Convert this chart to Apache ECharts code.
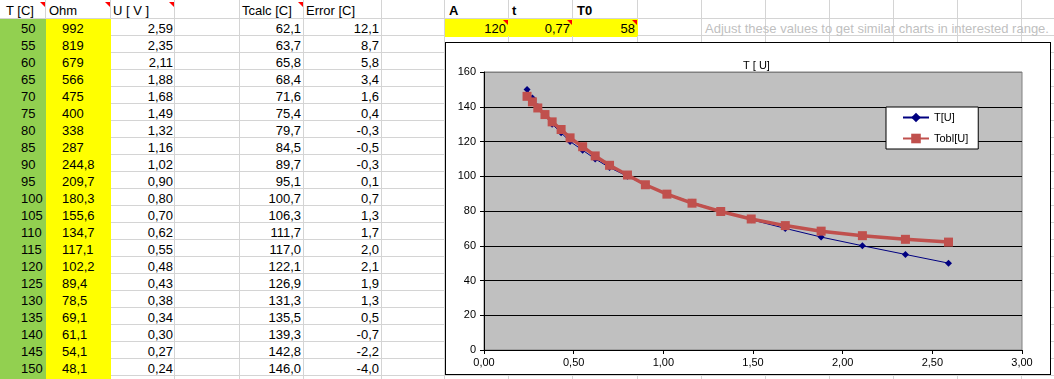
<!DOCTYPE html>
<html>
<head>
<meta charset="utf-8">
<script src="https://cdn.jsdelivr.net/npm/echarts@6/dist/echarts.min.js"></script>
<style>
  html, body { margin:0; padding:0; background:#fff; }
  body { width:1054px; height:379px; position:relative; overflow:hidden; font-family: Arial, "Liberation Sans", sans-serif; font-size:13px; color:#000; }
  .cell { position:absolute; box-sizing:border-box; border-right:1px solid #d4d4d4; border-bottom:1px solid #d4d4d4; }
  .txt { position:absolute; white-space:nowrap; line-height:17px; height:17px; }
  .tri { position:absolute; width:0; height:0; border-top:5px solid #ff0000; border-left:5px solid transparent; }
  #box { position:absolute; left:445px; top:42px; width:606px; height:333px; box-sizing:border-box; border:1px solid #000; background:#fff; }
  #chart { position:absolute; left:0; top:0; width:1054px; height:379px; }
</style>
</head>
<body>
<div id="sheet"></div>
<div id="box"></div>
<div id="chart"></div>
<script>
// ---- data ----
const headers = ["T [C]", "Ohm", "U [ V ]", "Tcalc [C]", "Error [C]"];
const T = [50,55,60,65,70,75,80,85,90,95,100,105,110,115,120,125,130,135,140,145,150];
const Ohm = [992,819,679,566,475,400,338,287,244.8,209.7,180.3,155.6,134.7,117.1,102.2,89.4,78.5,69.1,61.1,54.1,48.1];
const U = [2.59,2.35,2.11,1.88,1.68,1.49,1.32,1.16,1.02,0.90,0.80,0.70,0.62,0.55,0.48,0.43,0.38,0.34,0.30,0.27,0.24];
const Tcalc = [62.1,63.7,65.8,68.4,71.6,75.4,79.7,84.5,89.7,95.1,100.7,106.3,111.7,117.0,122.1,126.9,131.3,135.5,139.3,142.8,146.0];
const Err = [12.1,8.7,5.8,3.4,1.6,0.4,-0.3,-0.5,-0.3,0.1,0.7,1.3,1.7,2.0,2.1,1.9,1.3,0.5,-0.7,-2.2,-4.0];
const paramNames = ["A", "t", "T0"];
const paramValues = [120, 0.77, 58];
const note = "Adjust these values to get similar charts in interested range.";
const chartTitle = "T [ U]";
const seriesNames = ["T[U]", "Tobl[U]"];
const xTicks = {min:0, max:3, step:0.5};
const yTicks = {min:0, max:160, step:20};

// ---- spreadsheet ----
const sheet = document.getElementById('sheet');
const colEdges = [-18,46,111,175,240,304,382,445,509,573,638,702,766,830,894,958,1022,1086];
function rowTop(r){ return r===0 ? -1 : 19 + 17*(r-1); }
function rowH(r){ return r===0 ? 20 : 17; }
function fillFor(c, r){
  if (r>=1 && c===0) return '#92D050';
  if (r>=1 && c===1) return '#FFFF00';
  if (r===1 && c>=7 && c<=9) return '#FFFF00';
  return null;
}
for (let r=0; r<23; r++){
  for (let c=0; c<colEdges.length-1; c++){
    const d = document.createElement('div');
    d.className = 'cell';
    d.style.left = colEdges[c]+'px';
    d.style.top = rowTop(r)+'px';
    d.style.width = (colEdges[c+1]-colEdges[c])+'px';
    d.style.height = rowH(r)+'px';
    const f = fillFor(c, r);
    if (f){ d.style.background = f; d.style.border='none';
      d.style.width = (colEdges[c+1]-colEdges[c]+ (c===1||c===9?0:1))+'px';
      d.style.height = (rowH(r)+ (r===21?0:1))+'px'; }
    sheet.appendChild(d);
  }
}
function txt(s, x, y, align, opts){
  const d = document.createElement('div');
  d.className='txt';
  d.textContent = s;
  d.style.top = (y+1)+'px';
  if (align==='right'){ d.style.right = (1054-x)+'px'; } else { d.style.left = x+'px'; }
  if (opts && opts.bold) d.style.fontWeight='bold';
  if (opts && opts.color) d.style.color=opts.color;
  sheet.appendChild(d);
}
function tri(rightEdge, top){
  const d = document.createElement('div');
  d.className='tri';
  d.style.left = (rightEdge-6)+'px';
  d.style.top = top+'px';
  sheet.appendChild(d);
}
const fmt = (v, n) => v.toFixed(n).replace('.', ',');
const fmtOhm = v => Number.isInteger(v) ? String(v) : fmt(v,1);
// headers
txt(headers[0], 6, 1, 'left'); tri(46, 2);
txt(headers[1], 49, 1, 'left'); tri(111, 2);
txt(headers[2], 113, 1, 'left'); tri(175, 2);
txt(headers[3], 242, 1, 'left'); tri(304, 2);
txt(headers[4], 306, 1, 'left');
for (let i=0;i<T.length;i++){
  const y = rowTop(i+1);
  txt(String(T[i]), 21, y, 'left');
  txt(fmtOhm(Ohm[i]), 62, y, 'left');
  txt(fmt(U[i],2), 173, y, 'right');
  txt(fmt(Tcalc[i],1), 301, y, 'right');
  txt(fmt(Err[i],1), 379, y, 'right');
}
// parameters
const pLeft = [449, 512, 577], pRight=[506, 570, 635], pEdge=[509,573,638];
for (let k=0;k<3;k++){
  txt(paramNames[k], pLeft[k], 1, 'left', {bold:true});
  const v = paramValues[k];
  txt(Number.isInteger(v)? String(v) : fmt(v,2), pRight[k], rowTop(1), 'right');
  tri(pEdge[k], rowTop(1)+1);
}
txt(note, 705, rowTop(1), 'left', {color:'#bfbfbf'});

// ---- chart ----
const chart = echarts.init(document.getElementById('chart'), null, {renderer:'canvas'});
const font = 'Arial, "Liberation Sans", sans-serif';
const splitColors = [];
for (let v=yTicks.min; v<=yTicks.max; v+=yTicks.step) splitColors.push(v===yTicks.max ? '#808080' : '#000000');
chart.setOption({
  animation:false,
  backgroundColor:'transparent',
  textStyle:{fontFamily:font},
  title:{ text: chartTitle, left: 738, top: 55, textStyle:{fontSize:11, fontWeight:'normal', color:'#000', fontFamily:font} },
  grid:{ left:484, top:72, width:538, height:278, show:true, backgroundColor:'#C0C0C0', borderColor:'#808080', borderWidth:1, containLabel:false },
  legend:{
    orient:'vertical', left:886, top:107, itemWidth:26, itemHeight:12, itemGap:10,
    padding:[5,10,5,16], backgroundColor:'#fff', borderColor:'#000', borderWidth:1, borderRadius:0,
    textStyle:{fontSize:11, color:'#000', fontFamily:font}, data: seriesNames
  },
  xAxis:{
    type:'value', min:xTicks.min, max:xTicks.max, interval:xTicks.step,
    axisLine:{show:true, onZero:false, lineStyle:{color:'#000', width:1}},
    axisTick:{show:true, length:4, inside:false, lineStyle:{color:'#000'}},
    axisLabel:{formatter: v => fmt(v,2), fontSize:11, color:'#000', margin:7, fontFamily:font},
    splitLine:{show:false}
  },
  yAxis:{
    type:'value', min:yTicks.min, max:yTicks.max, interval:yTicks.step,
    axisLine:{show:true, lineStyle:{color:'#000', width:1}},
    axisTick:{show:true, length:4, lineStyle:{color:'#000'}},
    axisLabel:{fontSize:11, color:'#000', margin:8, fontFamily:font},
    splitLine:{show:true, lineStyle:{color:splitColors, width:1}}
  },
  series:[
    { name: seriesNames[0], type:'line', data: U.map((u,i)=>[u, T[i]]),
      symbol:'diamond', symbolSize:7, showAllSymbol:true,
      lineStyle:{color:'#000080', width:1}, itemStyle:{color:'#000080'}, z:2 },
    { name: seriesNames[1], type:'line', data: U.map((u,i)=>[u, Tcalc[i]]),
      symbol:'rect', symbolSize:9, showAllSymbol:true,
      lineStyle:{color:'#C0504D', width:3.5}, itemStyle:{color:'#C0504D'}, z:3 }
  ]
});
</script>
</body>
</html>
